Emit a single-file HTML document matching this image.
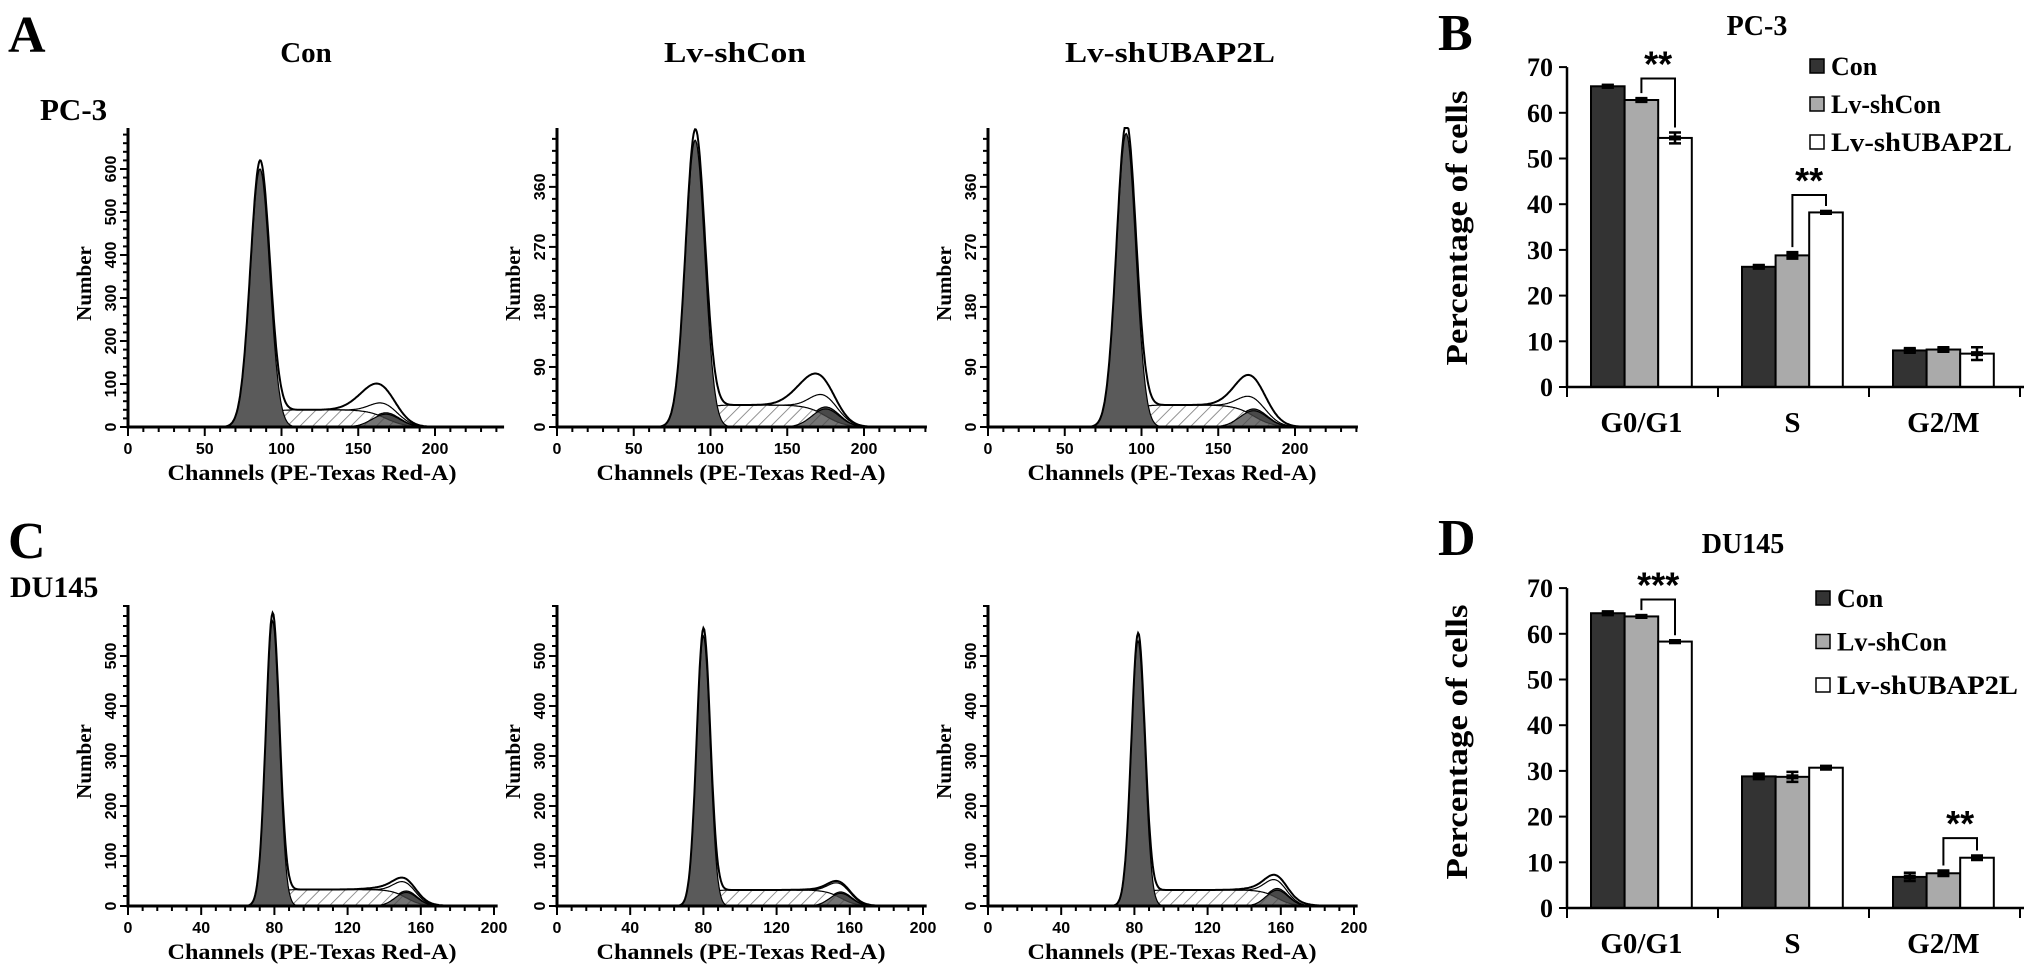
<!DOCTYPE html>
<html><head><meta charset="utf-8"><style>
html,body{margin:0;padding:0;background:#fff;}
svg{display:block;font-family:"Liberation Serif",serif;font-weight:bold;}
</style></head><body>
<svg id="fig" width="2031" height="979" viewBox="0 0 2031 979">
<defs>
<pattern id="hatch" width="9" height="9" patternUnits="userSpaceOnUse" patternTransform="rotate(45)">
<rect width="9" height="9" fill="#fff"/><line x1="0" y1="0" x2="0" y2="9" stroke="#777" stroke-width="1.6"/>
</pattern>
</defs>
<text x="8" y="52" font-size="52">A</text>
<text x="8" y="558" font-size="52">C</text>
<text x="1438" y="50" font-size="52">B</text>
<text x="1438" y="555" font-size="52">D</text>
<text x="40" y="120" font-size="31">PC-3</text>
<text x="10" y="597" font-size="30">DU145</text>
<text x="306" y="62" font-size="29" text-anchor="middle">Con</text>
<text x="735" y="62" font-size="29" text-anchor="middle" textLength="142" lengthAdjust="spacingAndGlyphs">Lv-shCon</text>
<text x="1170" y="62" font-size="29" text-anchor="middle" textLength="210" lengthAdjust="spacingAndGlyphs">Lv-shUBAP2L</text>
<g id="hists"></g>
<g id="bars"></g>
</svg>
<script>
// ---- Histogram data (per panel: A1,A2,A3,C1,C2,C3) ----
const g1Mean = [86, 90, 90, 79, 80, 82];
const g1Peak = [600, 430, 440, 570, 540, 530];
const sLevel = [40, 33, 33, 33, 32, 32];
const g2Mean = [168, 175, 173, 152, 155, 158];
const g2Peak = [33, 30, 27, 30, 28, 35];
const rawPeak = [100, 78, 78, 56, 50, 62];
const rawPeakCh = [160, 165, 170, 148, 152, 157];
const yTicksA1 = [0, 100, 200, 300, 400, 500, 600];
const yTicksA23 = [0, 90, 180, 270, 360];
const yTicksC = [0, 100, 200, 300, 400, 500];
const xTicksA = [0, 50, 100, 150, 200];
const xTicksC = [0, 40, 80, 120, 160, 200];

// ---- Bar chart data ----
const phases = ["G0/G1", "S", "G2/M"];
const groups = ["Con", "Lv-shCon", "Lv-shUBAP2L"];
const pc3Con = [65.8, 26.3, 8.0];
const pc3ShCon = [62.8, 28.8, 8.2];
const pc3ShUB = [54.5, 38.2, 7.3];
const pc3ConErr = [0.3, 0.4, 0.5];
const pc3ShConErr = [0.4, 0.7, 0.5];
const pc3ShUBErr = [1.2, 0.3, 1.4];
const duCon = [64.5, 28.8, 6.8];
const duShCon = [63.8, 28.7, 7.6];
const duShUB = [58.3, 30.7, 11.0];
const duConErr = [0.4, 0.6, 0.9];
const duShConErr = [0.3, 1.1, 0.6];
const duShUBErr = [0.3, 0.4, 0.5];
const barTicks = [0, 10, 20, 30, 40, 50, 60, 70];

const NS = "http://www.w3.org/2000/svg";
function mk(tag, attrs, parent) {
  const e = document.createElementNS(NS, tag);
  for (const k in attrs) e.setAttribute(k, attrs[k]);
  parent.appendChild(e);
  return e;
}
const hists = document.getElementById('hists');
const bars = document.getElementById('bars');

const panels = [
  {x0:128, base:427, top:128, pxU:1.535, maxU:245, pxC:0.43, yt:yTicksA1, ym:20, xt:xTicksA, xm:10, sd1:6.3, sd2:9},
  {x0:557, base:427, top:128, pxU:1.535, maxU:241, pxC:0.667, yt:yTicksA23, ym:18, xt:xTicksA, xm:10, sd1:6.3, sd2:9},
  {x0:988, base:427, top:128, pxU:1.535, maxU:241, pxC:0.667, yt:yTicksA23, ym:18, xt:xTicksA, xm:10, sd1:6.3, sd2:9},
  {x0:128, base:906, top:605, pxU:1.83, maxU:202, pxC:0.5, yt:yTicksC, ym:20, xt:xTicksC, xm:8, sd1:3.7, sd2:6},
  {x0:557, base:906, top:605, pxU:1.83, maxU:202, pxC:0.5, yt:yTicksC, ym:20, xt:xTicksC, xm:8, sd1:3.7, sd2:6},
  {x0:988, base:906, top:605, pxU:1.83, maxU:202, pxC:0.5, yt:yTicksC, ym:20, xt:xTicksC, xm:8, sd1:3.7, sd2:6}
];

panels.forEach((p, i) => {
  const g = mk('g', {}, hists);
  
  
  const X = c => p.x0 + c * p.pxU;
  const Y = v => Math.max(p.top, p.base - v * p.pxC);
  const gauss = (c, m, s, h) => h * Math.exp(-(c - m) * (c - m) / (2 * s * s));
  const sComp = c => sLevel[i] / (1 + Math.exp(-(c - g1Mean[i]) / (p.sd1 * 0.7))) / (1 + Math.exp((c - g2Mean[i]) / (p.sd2 * 0.7)));
  const g1 = c => gauss(c, g1Mean[i], p.sd1, g1Peak[i]);
  const g2 = c => gauss(c, g2Mean[i], p.sd2, g2Peak[i]);
  const extra = Math.max(0, rawPeak[i] - sComp(rawPeakCh[i]) - g2(rawPeakCh[i]));
  const raw = c => g1(c) + sComp(c) + g2(c) + gauss(c, rawPeakCh[i], 11, extra);
  const model = c => g1(c) + sComp(c) + g2(c);
  const cs = [];
  for (let c = g1Mean[i] - 5 * p.sd1; c <= g2Mean[i] + 4 * p.sd2; c += 0.5) cs.push(c);
  const area = (f, fill, name) => {
    let d = 'M' + X(cs[0]) + ',' + p.base;
    cs.forEach(c => d += 'L' + X(c).toFixed(1) + ',' + Y(f(c)).toFixed(1));
    d += 'L' + X(cs[cs.length - 1]) + ',' + p.base + 'Z';
    const e = mk('path', {d: d, fill: fill, stroke: '#000', 'stroke-width': 1.2}, g);
    
    
  };
  area(g2, '#555', 'g2-peak');
  area(sComp, 'url(#hatch)', 's-phase');
  area(c => g2(c) * 0.9, 'rgba(70,70,70,0.75)', 'g2-overlay');
  area(g1, '#5a5a5a', 'g1-peak');
  const line = (f, w, name) => {
    let d = '';
    cs.forEach((c, k) => d += (k ? 'L' : 'M') + X(c).toFixed(1) + ',' + Y(f(c)).toFixed(1));
    const e = mk('path', {d: d, fill: 'none', stroke: '#000', 'stroke-width': w}, g);
    
    
  };
  line(model, 1.2, 'model-fit-line');
  line(raw, 2, 'raw-data-line');
  const ax = mk('path', {d: 'M' + p.x0 + ',' + p.top + 'V' + p.base + 'H' + X(p.maxU), stroke: '#000', 'stroke-width': 3, fill: 'none'}, g);
  
  
  const maxV = (p.base - p.top) / p.pxC;
  for (let v = 0; v <= maxV; v += p.ym) {
    const major = p.yt.includes(v);
    mk('line', {x1: p.x0 - (major ? 8 : 5), x2: p.x0, y1: p.base - v * p.pxC, y2: p.base - v * p.pxC, stroke: '#000', 'stroke-width': 2}, g);
  }
  p.yt.forEach(v => {
    const y = p.base - v * p.pxC;
    const t = mk('text', {x: 0, y: 0, 'font-size': 16, 'text-anchor': 'middle', transform: 'translate(' + (p.x0 - 12) + ',' + y + ') rotate(-90)', 'font-family': 'Liberation Sans, sans-serif'}, g);
    t.textContent = v;
    
    
  });
  for (let c = 0; c <= p.maxU; c += p.xm) {
    const major = p.xt.includes(c);
    mk('line', {x1: X(c), x2: X(c), y1: p.base, y2: p.base + (major ? 9 : 5), stroke: '#000', 'stroke-width': 2}, g);
  }
  p.xt.forEach(c => {
    const t = mk('text', {x: X(c), y: p.base + 27, 'font-size': 16, 'text-anchor': 'middle', 'font-family': 'Liberation Sans, sans-serif'}, g);
    t.textContent = c;
    
    
  });
  const xt = mk('text', {x: p.x0 + 184, y: p.base + 53, 'font-size': 22, 'text-anchor': 'middle', textLength: 289, lengthAdjust: 'spacingAndGlyphs'}, g);
  xt.textContent = 'Channels (PE-Texas Red-A)';
  
  
  const yc = (p.base + p.top) / 2 + 6;
  const yt = mk('text', {x: 0, y: 0, 'font-size': 21, 'text-anchor': 'middle', transform: 'translate(' + (p.x0 - 37) + ',' + yc + ') rotate(-90)'}, g);
  yt.textContent = 'Number';
  
  
});

// ---- Bar charts ----
const fills = ['#333', '#aaa', '#fff'];
function barChart(cfg) {
  const g = mk('g', {}, bars);
  
  
  const ax0 = 1567, axEnd = 2024, grpW = 151, bw = 33.6;
  const Y = v => cfg.base - v * 4.57;
  const t = mk('text', {x: cfg.titleX, y: cfg.titleY, 'font-size': 28, 'text-anchor': 'middle'}, g);
  t.textContent = cfg.title;
  
  
  const series = [cfg.s1, cfg.s2, cfg.s3];
  const errs = [cfg.e1, cfg.e2, cfg.e3];
  phases.forEach((ph, pi) => {
    const gx = ax0 + 24 + pi * grpW;
    series.forEach((s, si) => {
      const x = gx + si * bw;
      const r = mk('rect', {x: x, y: Y(s[pi]), width: bw, height: cfg.base - Y(s[pi]), fill: fills[si], stroke: '#000', 'stroke-width': 2}, g);
      
      
      const cx = x + bw / 2, e = errs[si][pi];
      mk('path', {d: 'M' + cx + ',' + Y(s[pi] + e) + 'V' + Y(s[pi] - e) + 'M' + (cx - 6) + ',' + Y(s[pi] + e) + 'h12M' + (cx - 6) + ',' + Y(s[pi] - e) + 'h12', stroke: '#000', 'stroke-width': 2.5, fill: 'none'}, g);
      mk('rect', {x: cx - 6, y: Y(s[pi]) - 2.5, width: 12, height: 5, fill: '#000'}, g);
    });
    const lb = mk('text', {x: gx + 1.5 * bw, y: cfg.base + 45, 'font-size': 29, 'text-anchor': 'middle'}, g);
    lb.textContent = ph;
    
    
  });
  cfg.sig.forEach(sg => {
    const gx = ax0 + 24 + sg.phase * grpW;
    const xl = gx + 1.5 * bw, xr = gx + 2.5 * bw;
    const top = Y(sg.at);
    const yl = Y(series[1][sg.phase] + errs[1][sg.phase]) - 5;
    const yr = Y(series[2][sg.phase] + errs[2][sg.phase]) - 5;
    mk('path', {d: 'M' + xl + ',' + yl + 'V' + top + 'H' + xr + 'V' + yr, stroke: '#000', 'stroke-width': 2, fill: 'none'}, g);
    const st = mk('text', {x: (xl + xr) / 2, y: top - 2, 'font-size': 36, 'text-anchor': 'middle', 'font-family': 'Liberation Sans, sans-serif'}, g);
    st.textContent = sg.label;
    
    
  });
  mk('path', {d: 'M' + ax0 + ',' + Y(70) + 'V' + cfg.base + 'H' + axEnd, stroke: '#000', 'stroke-width': 2.5, fill: 'none'}, g);
  for (let k = 0; k <= 3; k++) mk('line', {x1: ax0 + k * grpW, x2: ax0 + k * grpW, y1: cfg.base, y2: cfg.base + 10, stroke: '#000', 'stroke-width': 2}, g);
  barTicks.forEach(v => {
    mk('line', {x1: ax0 - 8, x2: ax0, y1: Y(v), y2: Y(v), stroke: '#000', 'stroke-width': 2}, g);
    const tl = mk('text', {x: ax0 - 14, y: Y(v) + 9, 'font-size': 26, 'text-anchor': 'end'}, g);
    tl.textContent = v;
    
    
  });
  const yt = mk('text', {x: 0, y: 0, 'font-size': 31, 'text-anchor': 'middle', textLength: 275, lengthAdjust: 'spacingAndGlyphs', transform: 'translate(' + 1467 + ',' + cfg.yTitleC + ') rotate(-90)'}, g);
  yt.textContent = 'Percentage of cells';
  
  
  groups.forEach((gn, si) => {
    const cy = cfg.legY + si * cfg.legGap;
    mk('rect', {x: cfg.legX, y: cy - 7, width: 14, height: 14, fill: fills[si], stroke: '#000', 'stroke-width': 1.5}, g);
    const lt = mk('text', {x: cfg.legX + 21, y: cy + 9, 'font-size': 26}, g);
    if (si === 2) { lt.setAttribute('textLength', 181); lt.setAttribute('lengthAdjust', 'spacingAndGlyphs'); }
    lt.textContent = gn;
    
    
  });
}
barChart({name: 'bar-chart-pc3', title: 'PC-3', titleX: 1757, titleY: 35, base: 387, yTitleC: 228,
  s1: pc3Con, s2: pc3ShCon, s3: pc3ShUB, e1: pc3ConErr, e2: pc3ShConErr, e3: pc3ShUBErr,
  legX: 1810, legY: 66, legGap: 38,
  sig: [{phase: 0, at: 67.5, label: '**'}, {phase: 1, at: 42, label: '**'}]});
barChart({name: 'bar-chart-du145', title: 'DU145', titleX: 1743, titleY: 553, base: 908, yTitleC: 742,
  s1: duCon, s2: duShCon, s3: duShUB, e1: duConErr, e2: duShConErr, e3: duShUBErr,
  legX: 1816, legY: 598, legGap: 43.5,
  sig: [{phase: 0, at: 67.5, label: '***'}, {phase: 2, at: 15.3, label: '**'}]});
</script>
</body></html>
